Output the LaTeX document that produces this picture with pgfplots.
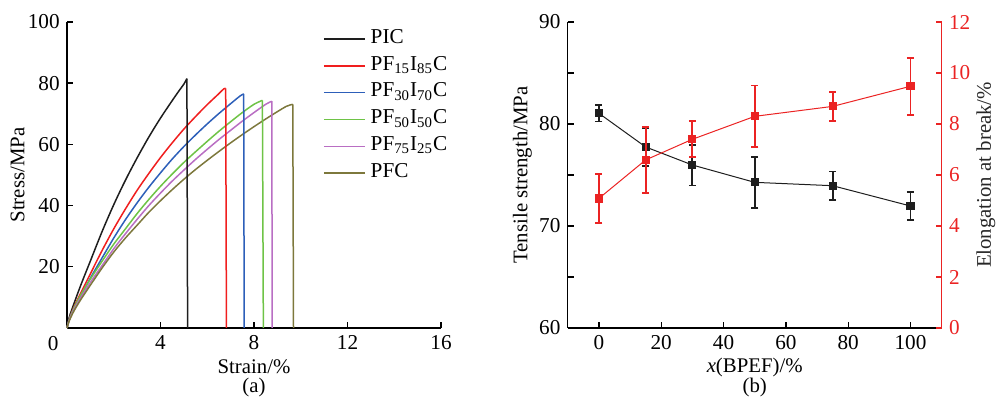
\documentclass[border=0pt]{standalone}
\usepackage{fontspec}
\setmainfont{Liberation Serif}
\usepackage{pgfplots}
\pgfplotsset{compat=1.18}

\definecolor{cblack}{RGB}{30,30,30}
\definecolor{cred}{RGB}{240,30,30}
\definecolor{cblue}{RGB}{45,95,185}
\definecolor{cgreen}{RGB}{110,195,70}
\definecolor{cpurple}{RGB}{185,110,195}
\definecolor{colive}{RGB}{125,120,60}
\definecolor{ered}{RGB}{235,35,35}

\pgfplotsset{
  panel/.style={
    scale only axis, width=187pt, height=153pt,
    /pgf/number format/assume math mode=true,
    tick align=inside, major tick length=3pt, minor tick length=3pt,
    axis line style={-, line width=0.7pt},
    every tick/.style={line width=0.7pt},
    tick label style={font=\fontsize{10.6}{12.5}\selectfont},
    label style={font=\fontsize{10.4}{12.5}\selectfont},
    clip=false,
  },
}

\begin{document}
\fontsize{10.4}{12.5}\selectfont
\begin{tikzpicture}
\useasboundingbox (0,0) rectangle (498pt,200.5pt);

% (a) stress-strain curves
\begin{axis}[panel,
  at={(33.5pt,36.5pt)}, anchor=south west,
  axis x line*=bottom, axis y line*=left,
  xmin=0, xmax=16, ymin=0, ymax=100,
  xtick={4,8,12,16}, ytick={20,40,60,80,100},
  xlabel={Strain/\%}, ylabel={Stress/MPa},
  xlabel style={at={(axis description cs:0.5,-0.1275)}, anchor=center},
  ylabel style={at={(axis description cs:-0.1324,0.5)}, anchor=center},
  legend style={draw=none, fill=none, at={(0.668,1.0)}, anchor=north west,
    font=\fontsize{10.6}{12.5}\selectfont,
    nodes={inner ysep=0pt, inner xsep=2.5pt, text height=8.5pt, text depth=4.25pt},
    row sep=0.65pt},
  legend cell align=left,
  legend image code/.code={\draw[#1] (0pt,0pt) -- (20.5pt,0pt);},
  every axis plot/.append style={line width=0.75pt},
]
\addplot[cblack, smooth] coordinates {(0,0) (0.1,3.6) (0.3,8.0) (0.6,14.2) (1.0,21.9) (1.5,31.5) (2.0,40.3) (2.5,48.3) (3.0,55.6) (3.5,62.4) (4.0,68.6) (4.5,74.3) (4.8,77.6) (5.0,79.7) (5.13,81.5)};
\addplot[cred, smooth] coordinates {(0,0) (0.1,3.0) (0.3,6.9) (0.6,11.6) (1.0,17.7) (1.5,25.3) (2.0,32.4) (2.5,38.9) (3.0,45.0) (3.5,50.5) (4.0,55.7) (4.5,60.5) (5.0,65.0) (5.5,69.1) (6.0,73.0) (6.5,76.6) (6.7,78.1) (6.79,78.3)};
\addplot[cblue, smooth] coordinates {(0,0) (0.1,2.9) (0.3,6.4) (0.6,10.7) (1.0,16.3) (1.5,22.9) (2.0,29.4) (2.5,35.4) (3.0,40.9) (3.5,46.0) (4.0,50.7) (4.5,55.2) (5.0,59.3) (5.5,63.1) (6.0,66.7) (6.5,70.1) (7.0,73.3) (7.4,75.8) (7.56,76.5)};
\addplot[cgreen, smooth] coordinates {(0,0) (0.1,2.8) (0.3,6.6) (0.6,11.0) (1.0,16.0) (1.5,21.8) (2.0,27.4) (2.5,32.4) (3.0,37.4) (3.5,42.0) (4.0,46.3) (4.5,50.3) (5.0,54.1) (5.5,57.6) (6.0,61.0) (6.5,64.3) (7.0,67.4) (7.5,70.4) (8.0,73.1) (8.36,74.4)};
\addplot[cpurple, smooth] coordinates {(0,0) (0.1,2.6) (0.3,6.1) (0.6,10.1) (1.0,14.9) (1.5,20.4) (2.0,25.9) (2.5,30.8) (3.0,35.5) (3.5,40.0) (4.0,44.1) (4.5,48.0) (5.0,51.6) (5.5,55.1) (6.0,58.4) (6.5,61.6) (7.0,64.6) (7.5,67.6) (8.0,70.4) (8.5,73.1) (8.76,74.1)};
\addplot[colive, smooth] coordinates {(0,0) (0.1,2.4) (0.3,5.6) (0.6,9.4) (1.0,14.0) (1.5,19.6) (2.0,24.8) (2.5,29.4) (3.0,33.6) (3.5,37.8) (4.0,41.6) (4.5,45.2) (5.0,48.6) (5.5,51.8) (6.0,54.8) (6.5,57.7) (7.0,60.5) (7.5,63.2) (8.0,65.8) (8.5,68.3) (9.0,70.7) (9.4,72.5) (9.66,73.1)};
\legend{PIC, PF\textsubscript{15}I\textsubscript{85}C, PF\textsubscript{30}I\textsubscript{70}C, PF\textsubscript{50}I\textsubscript{50}C, PF\textsubscript{75}I\textsubscript{25}C, PFC}
% fracture drops
\addplot[cblack, forget plot] coordinates {(5.13,81.5) (5.16,0)};
\addplot[cred, forget plot] coordinates {(6.79,78.3) (6.82,0)};
\addplot[cblue, forget plot] coordinates {(7.56,76.5) (7.58,0)};
\addplot[cgreen, forget plot] coordinates {(8.36,74.4) (8.40,0)};
\addplot[cpurple, forget plot] coordinates {(8.76,74.1) (8.78,0)};
\addplot[colive, forget plot] coordinates {(9.66,73.1) (9.69,0)};
\node[anchor=center, font=\fontsize{10.6}{12.5}\selectfont] at (rel axis cs:0,0) [xshift=-6.85pt, yshift=-7.6pt] {0};
\node[anchor=center] at (rel axis cs:0.5,0) [yshift=-30pt] {(a)};
\end{axis}

% (b) tensile strength (left axis)
\begin{axis}[panel,
  at={(283.85pt,36.5pt)}, anchor=south west,
  axis x line*=bottom, axis y line*=left,
  xmin=-10, xmax=110, ymin=60, ymax=90,
  xtick={0,20,...,100}, ytick={60,70,80,90}, minor ytick={65,75,85},
  xlabel={\textit{x}(BPEF)/\%}, ylabel={Tensile strength/MPa},
  xlabel style={at={(axis description cs:0.5,-0.1275)}, anchor=center},
  ylabel style={at={(axis description cs:-0.121,0.5)}, anchor=center},
]
\addplot[cblack, line width=0.5pt, mark=square*, mark size=1.8pt,
  error bars/.cd, y dir=both, y explicit,
  error bar style={line width=0.9pt, cblack},
  error mark options={rotate=90, mark size=1.8pt, line width=0.9pt, cblack}]
  coordinates {(0,81.05) +- (0,0.8) (15,77.75) +- (0,1.85) (30,75.98) +- (0,2.0) (50,74.28) +- (0,2.5) (75,73.95) +- (0,1.4) (100,71.96) +- (0,1.4)};
\node[anchor=center] at (rel axis cs:0.5,0) [yshift=-30pt] {(b)};
\end{axis}

% (b) elongation at break (right axis)
\begin{axis}[panel,
  at={(283.85pt,36.5pt)}, anchor=south west,
  axis x line=none, axis y line*=right,
  xmin=-10, xmax=110, ymin=0, ymax=12,
  ytick={0,2,...,12},
  y axis line style={ered},
  y tick style={ered, line width=0.7pt},
  yticklabel style={text=ered},
  ylabel={Elongation at break/\%},
  ylabel style={at={(axis description cs:1.118,0.5)}, anchor=center, rotate=0, text=black!85},
]
\addplot[ered, line width=0.5pt, mark=square*, mark size=1.8pt,
  error bars/.cd, y dir=both, y explicit,
  error bar style={line width=0.9pt, ered},
  error mark options={rotate=90, mark size=1.8pt, line width=0.9pt, ered}]
  coordinates {(0,5.08) +- (0,0.96) (15,6.59) +- (0,1.29) (30,7.40) +- (0,0.71) (50,8.30) +- (0,1.21) (75,8.69) +- (0,0.58) (100,9.48) +- (0,1.12)};
\end{axis}
\end{tikzpicture}
\end{document}
